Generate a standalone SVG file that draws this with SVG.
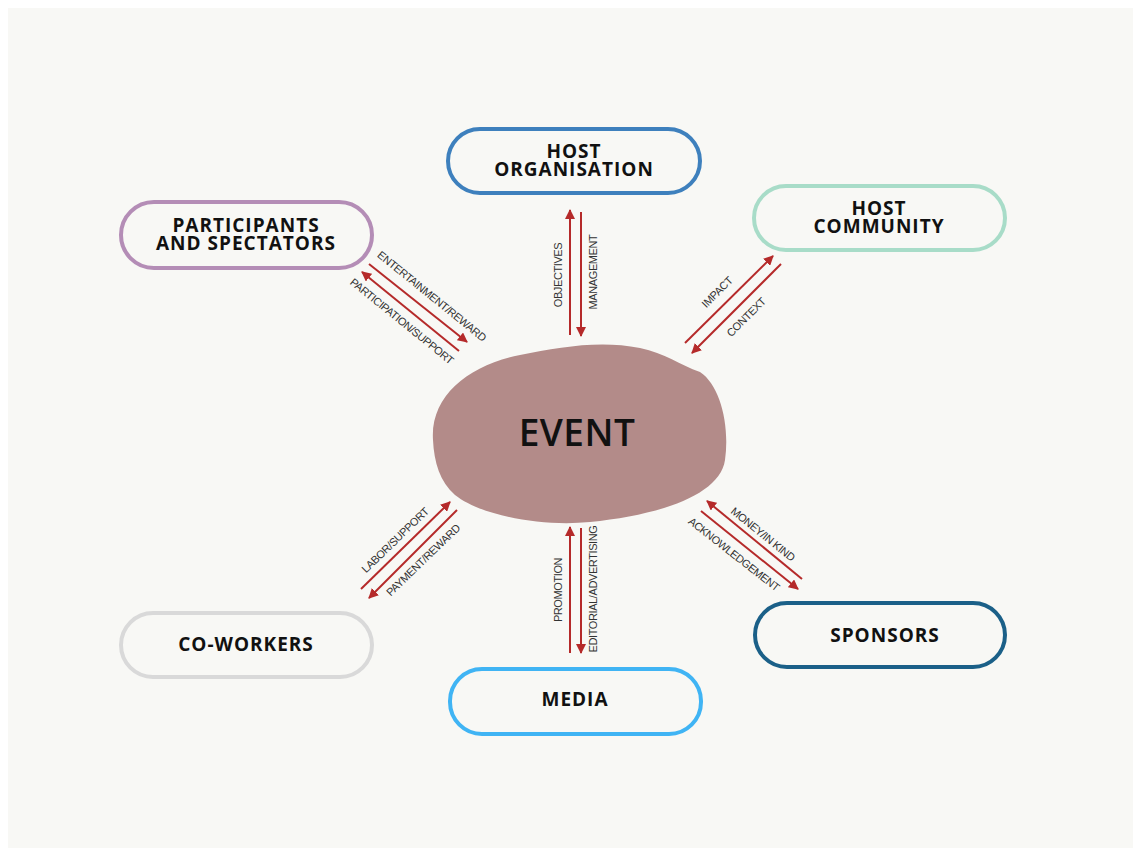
<svg xmlns="http://www.w3.org/2000/svg" width="1141" height="852" viewBox="0 0 1141 852">
<defs>
<marker id="ah" viewBox="0 0 10 10" refX="9" refY="5" markerWidth="10" markerHeight="10" markerUnits="userSpaceOnUse" orient="auto">
<path d="M0,0 L10,5 L0,10 z" fill="#b52a2a"/>
</marker>
<style>
.pill{fill:none;stroke-width:4}
.nt{font-family:"Open Sans","Liberation Sans",sans-serif;font-weight:700;font-size:19px;fill:#111;text-anchor:middle;letter-spacing:1px}
.lb{font-family:"Liberation Sans",Arial,sans-serif;font-size:11px;fill:#333;text-anchor:middle;dominant-baseline:central;letter-spacing:-0.4px}
.ar{stroke:#b52a2a;stroke-width:2;fill:none;marker-end:url(#ah)}
</style>
</defs>
<rect x="0" y="0" width="1141" height="852" fill="#ffffff"/>
<rect x="8" y="8" width="1125" height="840" fill="#f8f8f5"/>

<g id="event">
<path d="M433,440 C430,395 470,365 520,355 C560,347 600,340 640,348 C665,353 680,365 700,372 C720,385 730,425 725,460 C720,495 660,515 590,522 C540,527 480,515 455,495 C440,482 434,462 433,440 Z" fill="#b38b89"/>
<text x="577" y="446" font-family="Open Sans,Liberation Sans,sans-serif" font-weight="600" font-size="37" fill="#111" text-anchor="middle" letter-spacing="0.5">EVENT</text>
</g>

<g id="host-organisation">
<rect class="pill" x="448" y="129" width="252" height="64" rx="32" stroke="#3e80bd"/>
<text class="nt"><tspan x="574" y="158">HOST</tspan><tspan x="574" y="176">ORGANISATION</tspan></text>
</g>

<g id="participants">
<rect class="pill" x="121" y="202" width="251" height="66" rx="33" stroke="#b48db6"/>
<text class="nt"><tspan x="246" y="232">PARTICIPANTS</tspan><tspan x="246" y="250">AND SPECTATORS</tspan></text>
</g>

<g id="host-community">
<rect class="pill" x="754" y="186" width="251" height="64" rx="32" stroke="#a8dcc8"/>
<text class="nt"><tspan x="879" y="215">HOST</tspan><tspan x="879" y="233">COMMUNITY</tspan></text>
</g>

<g id="co-workers">
<rect class="pill" x="121" y="613" width="251" height="64" rx="32" stroke="#d9d9d9"/>
<text class="nt" x="246" y="651">CO-WORKERS</text>
</g>

<g id="media">
<rect class="pill" x="450" y="669" width="251" height="65" rx="32" stroke="#40b4f4"/>
<text class="nt" x="575" y="706">MEDIA</text>
</g>

<g id="sponsors">
<rect class="pill" x="755" y="603" width="250" height="64" rx="32" stroke="#1b6088"/>
<text class="nt" x="885" y="642">SPONSORS</text>
</g>

<g id="connectors">
<!-- host organisation -->
<line class="ar" x1="570" y1="335" x2="570" y2="210"/>
<line class="ar" x1="581" y1="212" x2="581" y2="336"/>
<text class="lb" transform="translate(558,275) rotate(-90)">OBJECTIVES</text>
<text class="lb" transform="translate(593,272) rotate(-90)">MANAGEMENT</text>
<!-- media -->
<line class="ar" x1="570" y1="653" x2="570" y2="527"/>
<line class="ar" x1="581" y1="528" x2="581" y2="653"/>
<text class="lb" transform="translate(558,590) rotate(-90)">PROMOTION</text>
<text class="lb" transform="translate(593,589) rotate(-90)">EDITORIAL/ADVERTISING</text>
<!-- participants -->
<line class="ar" x1="369" y1="264" x2="467" y2="342"/>
<line class="ar" x1="459" y1="351" x2="362" y2="272"/>
<text class="lb" transform="translate(432,296) rotate(39)">ENTERTAINMENT/REWARD</text>
<text class="lb" transform="translate(402,321) rotate(39)">PARTICIPATION/SUPPORT</text>
<!-- host community -->
<line class="ar" x1="685" y1="343" x2="773" y2="256"/>
<line class="ar" x1="781" y1="264" x2="692" y2="353"/>
<text class="lb" transform="translate(717,292) rotate(-45)">IMPACT</text>
<text class="lb" transform="translate(746,317) rotate(-45)">CONTEXT</text>
<!-- co-workers -->
<line class="ar" x1="361" y1="589" x2="450" y2="502"/>
<line class="ar" x1="457" y1="510" x2="369" y2="598"/>
<text class="lb" transform="translate(395,540) rotate(-44)">LABOR/SUPPORT</text>
<text class="lb" transform="translate(423,560) rotate(-44)">PAYMENT/REWARD</text>
<!-- sponsors -->
<line class="ar" x1="802" y1="579" x2="707" y2="501"/>
<line class="ar" x1="701" y1="511" x2="798" y2="589"/>
<text class="lb" transform="translate(763,534) rotate(39)">MONEY/IN KIND</text>
<text class="lb" transform="translate(734,554) rotate(38)">ACKNOWLEDGEMENT</text>
</g>
</svg>
